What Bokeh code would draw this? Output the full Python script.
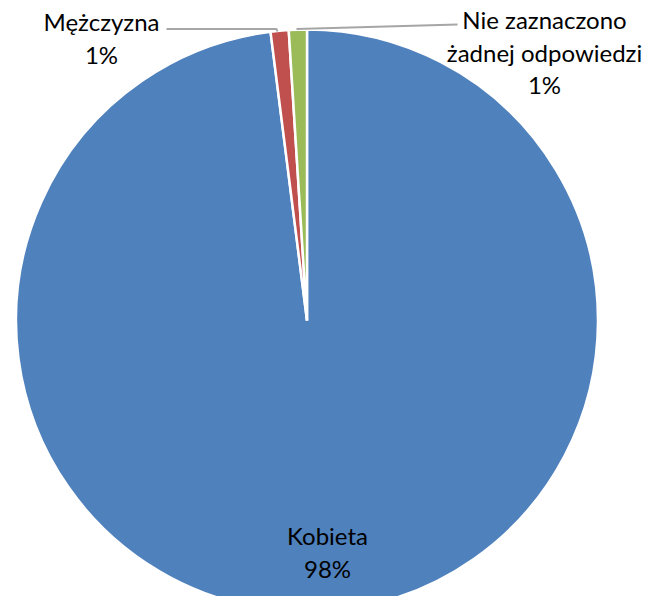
import numpy as np
import pandas as pd
from bokeh.plotting import figure
from bokeh.models import ColumnDataSource, Range1d
from bokeh.core.properties import value
from bokeh.embed import file_html
from bokeh.resources import INLINE

categories = ["Kobieta", "Mężczyzna", "Nie zaznaczono żadnej odpowiedzi"]
label_lines = [["Kobieta"], ["Mężczyzna"], ["Nie zaznaczono", "żadnej odpowiedzi"]]
shares = [98.0, 1.0, 1.0]
pct_labels = ["98%", "1%", "1%"]
colors = ["#4F81BD", "#C0504D", "#9BBB59"]

W, H = 645, 596
FONT = "Lato"
FS = "24px"

def sx(x):  # screen px -> data
    return x
def sy(y):
    return H - y

cx, cy, R = sx(306.5), sy(320), 291

df = pd.DataFrame({"cat": categories, "share": shares, "color": colors})
frac = df["share"] / df["share"].sum()
cum_end = frac.cumsum() * 2 * np.pi
cum_start = cum_end - frac * 2 * np.pi
df["start"] = np.pi / 2 - cum_start
df["end"] = np.pi / 2 - cum_end

p = figure(width=W, height=H, output_backend="svg", toolbar_location=None,
           x_range=Range1d(0, W), y_range=Range1d(0, H), min_border=0,
           background_fill_color="white", border_fill_color="white")
p.axis.visible = False
p.grid.visible = False
p.outline_line_color = None

src = ColumnDataSource(df)
p.wedge(x=cx, y=cy, radius=R, start_angle="start", end_angle="end",
        direction="clock", fill_color="color", line_color="white",
        line_width=2.5, source=src)

# leader lines
p.line(x=[sx(166), sx(276), sx(277)], y=[sy(28.5), sy(28.5), sy(31)],
       line_color="#A6A6A6", line_width=2)
p.line(x=[sx(296), sx(457)], y=[sy(28.5), sy(24)],
       line_color="#A6A6A6", line_width=2)

# labels: (screen x center, screen y of first line)
label_pos = [(327, 535), (101, 21), (544, 19)]
tx, ty, tt = [], [], []
for lines, pct, (x0, y0) in zip(label_lines, pct_labels, label_pos):
    for i, t in enumerate(lines + [pct]):
        tx.append(sx(x0))
        ty.append(sy(y0 + 32.5 * i))
        tt.append(t)
p.text(x=tx, y=ty, text=tt, text_align="center", text_baseline="middle",
       text_font=value(FONT), text_font_size=FS, text_color="#000000")

open("out.html", "w").write(file_html(p, INLINE))
